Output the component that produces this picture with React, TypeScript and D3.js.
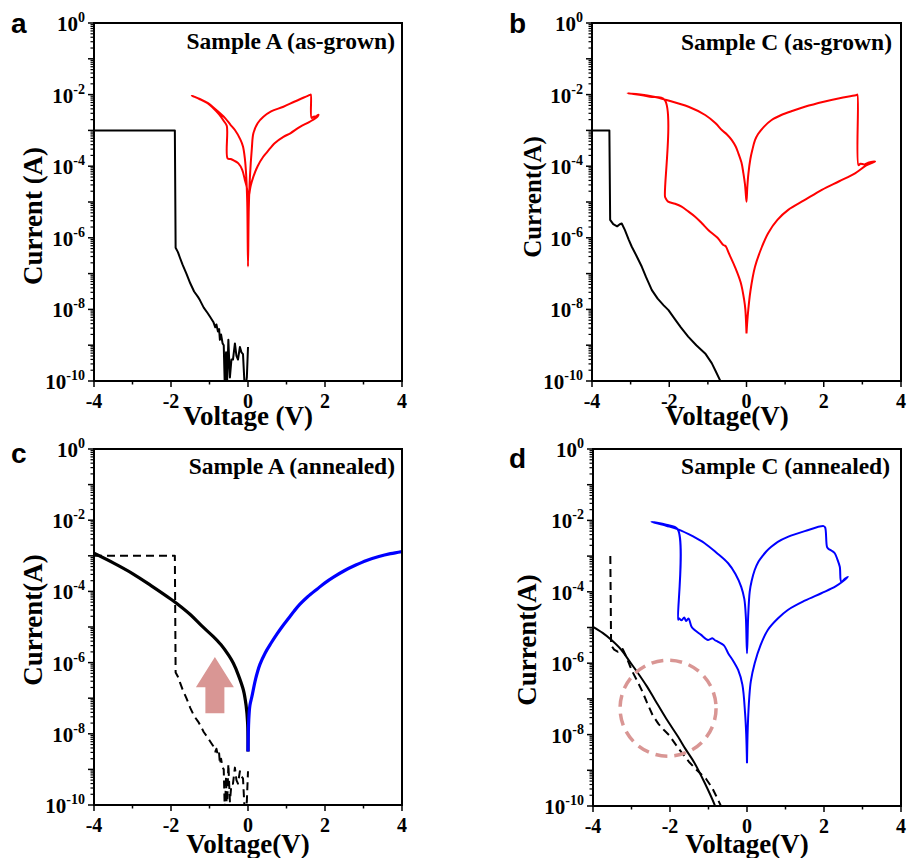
import React from "react";
import * as d3 from "d3";

// ---------- DATA: [voltage (V), log10(current / A)] ----------
const sampleAAsGrown: [number, number][] = [
  [-4, -3], [-1.9, -3], [-1.88, -6.28], [-1.82, -6.4], [-1.77, -6.55], [-1.7, -6.75], [-1.6, -7.0],
  [-1.5, -7.27], [-1.4, -7.5], [-1.3, -7.65], [-1.25, -7.74], [-1.15, -7.95], [-1.05, -8.1],
  [-0.99, -8.2], [-0.9, -8.35], [-0.85, -8.5], [-0.82, -8.42], [-0.78, -8.62], [-0.75, -8.55],
  [-0.73, -8.85], [-0.7, -8.7], [-0.66, -8.95], [-0.63, -9.0], [-0.6, -10.3], [-0.57, -9.2],
  [-0.55, -10.3], [-0.51, -8.85], [-0.47, -9.9], [-0.43, -9.4], [-0.39, -9.4], [-0.34, -8.95],
  [-0.3, -9.3], [-0.26, -9.4], [-0.21, -9.05], [-0.17, -9.2], [-0.13, -9.25], [-0.08, -10.3],
  [-0.03, -9.9], [0, -9.05],
];

const sampleASweep: [number, number][] = [
  [0, -4.95], [-0.03, -4.6], [-0.08, -4.39], [-0.15, -4.1], [-0.25, -3.92], [-0.35, -3.85],
  [-0.45, -3.8], [-0.53, -3.78], [-0.55, -2.88], [-0.62, -2.75], [-0.75, -2.55], [-0.9, -2.38],
  [-1.05, -2.24], [-1.25, -2.13], [-1.46, -2.03], [-1.25, -2.12], [-1.05, -2.23], [-0.8, -2.45],
  [-0.6, -2.65], [-0.45, -2.85], [-0.34, -2.99], [-0.2, -3.25], [-0.13, -3.45], [-0.08, -3.8],
  [-0.05, -4.2], [-0.02, -5.0], [0, -6.8], [0.02, -5.2], [0.05, -4.3], [0.1, -3.5], [0.14, -3.08],
  [0.25, -2.8], [0.4, -2.62], [0.6, -2.47], [0.92, -2.34], [1.2, -2.2], [1.45, -2.08],
  [1.61, -2.01], [1.63, -2.0], [1.65, -2.65], [1.7, -2.62], [1.78, -2.6], [1.83, -2.56],
  [1.8, -2.62], [1.6, -2.76], [1.35, -2.9], [1.1, -3.08], [0.92, -3.18], [0.7, -3.35],
  [0.5, -3.6], [0.4, -3.73], [0.25, -4.0], [0.14, -4.29], [0.07, -4.55], [0.03, -4.8], [0, -4.95],
];

const sampleCAsGrown: [number, number][] = [
  [-4, -3], [-3.55, -3], [-3.53, -5.5], [-3.45, -5.62], [-3.35, -5.68], [-3.28, -5.62],
  [-3.23, -5.6], [-3.15, -5.78], [-3.05, -6.05], [-2.97, -6.25], [-2.85, -6.5], [-2.71, -6.81],
  [-2.6, -7.1], [-2.45, -7.46], [-2.3, -7.7], [-2.15, -7.88], [-2.02, -8.02], [-1.85, -8.28],
  [-1.7, -8.5], [-1.51, -8.76], [-1.3, -9.0], [-1.07, -9.23], [-0.9, -9.5], [-0.8, -9.72],
  [-0.69, -9.97], [-0.65, -10.1],
];

const sampleCSweep: [number, number][] = [
  [0, -8.67], [-0.03, -8.0], [-0.06, -7.74], [-0.15, -7.25], [-0.3, -6.81], [-0.45, -6.45],
  [-0.53, -6.25], [-0.56, -6.22], [-0.6, -6.2], [-0.75, -6.0], [-0.99, -5.78], [-1.15, -5.6],
  [-1.33, -5.41], [-1.5, -5.27], [-1.68, -5.13], [-1.85, -5.05], [-2.03, -4.99], [-2.09, -4.9],
  [-2.11, -4.85], [-2.12, -2.15], [-2.5, -2.06], [-3.08, -1.96], [-2.5, -2.04], [-2.0, -2.17],
  [-1.5, -2.34], [-1.07, -2.57], [-0.8, -2.8], [-0.64, -2.99], [-0.5, -3.12], [-0.38, -3.27],
  [-0.28, -3.45], [-0.21, -3.64], [-0.13, -3.9], [-0.08, -4.2], [-0.04, -4.5], [-0.02, -4.75],
  [0, -4.99], [0.02, -4.6], [0.05, -4.2], [0.1, -3.8], [0.15, -3.55], [0.22, -3.27], [0.3, -3.1],
  [0.45, -2.9], [0.65, -2.71], [0.9, -2.57], [1.2, -2.45], [1.51, -2.34], [2.0, -2.2],
  [2.5, -2.08], [2.85, -2.01], [2.87, -2.0], [2.9, -3.97], [2.95, -3.93], [3.05, -3.95],
  [3.15, -3.9], [3.33, -3.87], [3.1, -3.98], [2.81, -4.2], [2.4, -4.42], [1.95, -4.66],
  [1.5, -4.95], [1.08, -5.22], [0.8, -5.5], [0.56, -5.87], [0.4, -6.25], [0.22, -6.81],
  [0.1, -7.5], [0.03, -8.2], [0, -8.67],
];

const sampleAAnnealedNeg: [number, number][] = [
  [-4, -2.93], [-3.5, -3.2], [-3, -3.5], [-2.5, -3.85], [-2, -4.22], [-1.85, -4.34],
  [-1.5, -4.65], [-1.2, -4.97], [-0.9, -5.27], [-0.7, -5.5], [-0.5, -5.8], [-0.38, -6.02],
  [-0.25, -6.35], [-0.12, -6.77], [-0.05, -7.2], [-0.01, -7.7], [0, -8.5],
];

const sampleAAnnealedPos: [number, number][] = [
  [0, -8.5], [0.02, -7.6], [0.05, -7.2], [0.1, -6.96], [0.2, -6.45], [0.31, -6.05],
  [0.45, -5.72], [0.6, -5.45], [0.75, -5.2], [0.9, -4.97], [1.05, -4.76], [1.2, -4.55],
  [1.35, -4.36], [1.55, -4.15], [1.8, -3.93], [2.0, -3.76], [2.22, -3.6], [2.5, -3.42],
  [2.8, -3.26], [3.08, -3.13], [3.4, -3.02], [3.7, -2.94], [4.0, -2.88],
];

const sampleCAnnealedNeg: [number, number][] = [
  [-4, -4.98], [-3.75, -5.15], [-3.52, -5.35], [-3.26, -5.63], [-3.05, -5.95], [-2.83, -6.28],
  [-2.6, -6.65], [-2.39, -7.03], [-2.1, -7.55], [-1.79, -8.06], [-1.6, -8.4], [-1.36, -8.8],
  [-1.1, -9.35], [-0.84, -9.97], [-0.8, -10.1],
];

const sampleCAnnealedSweep: [number, number][] = [
  [0, -8.8], [-0.02, -8.0], [-0.05, -7.4], [-0.12, -6.6], [-0.23, -6.19], [-0.35, -5.95],
  [-0.49, -5.72], [-0.6, -5.5], [-0.75, -5.4], [-0.84, -5.35], [-0.9, -5.3], [-1.01, -5.35],
  [-1.2, -5.2], [-1.36, -5.07], [-1.44, -4.98], [-1.52, -4.75], [-1.58, -4.82], [-1.63, -4.72],
  [-1.7, -4.8], [-1.77, -4.74], [-1.79, -4.78], [-1.8, -2.25], [-2.1, -2.12], [-2.48, -2.04],
  [-2.1, -2.15], [-1.79, -2.25], [-1.4, -2.45], [-1.1, -2.64], [-0.8, -2.9], [-0.49, -3.2],
  [-0.3, -3.5], [-0.15, -3.86], [-0.07, -4.2], [-0.03, -4.7], [0, -5.72], [0.03, -4.7],
  [0.07, -4.0], [0.12, -3.7], [0.2, -3.39], [0.3, -3.15], [0.4, -3.0], [0.5, -2.87],
  [0.63, -2.74], [0.8, -2.6], [1.06, -2.46], [1.5, -2.3], [1.99, -2.16], [2.03, -2.2],
  [2.08, -2.75], [2.12, -2.8], [2.2, -2.85], [2.28, -2.92], [2.35, -3.1], [2.41, -3.3],
  [2.45, -3.72], [2.55, -3.63], [2.62, -3.58], [2.5, -3.7], [2.3, -3.85], [1.93, -4.04],
  [1.5, -4.25], [1.06, -4.51], [0.8, -4.75], [0.54, -5.07], [0.35, -5.5], [0.2, -6.0],
  [0.1, -6.5], [0.06, -6.94], [0.02, -7.8], [0, -8.8],
];

const xTicks = [-4, -3, -2, -1, 0, 1, 2, 3, 4];
const xTickLabels = ["-4", "", "-2", "", "0", "", "2", "", "4"];
const yDecades = [-10, -9, -8, -7, -6, -5, -4, -3, -2, -1, 0];
const yLabelDecades = [-10, -8, -6, -4, -2, 0];

// annotation anchors (data units)
const arrowC = { v: -0.86, tip: -5.84, neck: -6.69, base: -7.42 };
const circleD = { v: -2.05, e: -7.26 };

const SERIF = "'Liberation Serif', 'Times New Roman', serif";
const SANS = "'Liberation Sans', Arial, sans-serif";
const PINK = "#d99694";

type Series = { data: [number, number][]; color: string; width: number; dash?: string; smooth?: boolean };

type PanelDef = {
  id: string;
  letter: string;
  lx: number; ly: number;
  x0: number; x1: number; y0: number; y1: number;
  title: string; titleX: number; titleY: number;
  yTitle: string; yTitleX: number; yTitleY: number; yTitleSize: number;
  xTitle: string; xTitleX: number; xTitleY: number;
  series: Series[];
  extra?: "arrow" | "circle";
};

const panels: PanelDef[] = [
  {
    id: "a", letter: "a", lx: 11, ly: 33, x0: 94, x1: 402, y0: 23, y1: 381,
    title: "Sample A (as-grown)", titleX: 395, titleY: 49,
    yTitle: "Current (A)", yTitleX: 42, yTitleY: 216, yTitleSize: 27,
    xTitle: "Voltage (V)", xTitleX: 248, xTitleY: 425,
    series: [
      { data: sampleAAsGrown, color: "#000", width: 2 },
      { data: sampleASweep, color: "#ff0000", width: 2, smooth: true },
    ],
  },
  {
    id: "b", letter: "b", lx: 509, ly: 33, x0: 592, x1: 901, y0: 23, y1: 381,
    title: "Sample C (as-grown)", titleX: 892, titleY: 50,
    yTitle: "Current(A)", yTitleX: 541, yTitleY: 197, yTitleSize: 25,
    xTitle: "Voltage(V)", xTitleX: 727, xTitleY: 425,
    series: [
      { data: sampleCAsGrown, color: "#000", width: 2 },
      { data: sampleCSweep, color: "#ff0000", width: 2, smooth: true },
    ],
  },
  {
    id: "c", letter: "c", lx: 11, ly: 463, x0: 94, x1: 402, y0: 449, y1: 805,
    title: "Sample A (annealed)", titleX: 395, titleY: 474,
    yTitle: "Current(A)", yTitleX: 42, yTitleY: 620, yTitleSize: 27,
    xTitle: "Voltage(V)", xTitleX: 248, xTitleY: 853,
    series: [
      { data: sampleAAsGrown, color: "#000", width: 2, dash: "8,5" },
      { data: sampleAAnnealedNeg, color: "#000", width: 3.2, smooth: true },
      { data: sampleAAnnealedPos, color: "#0000ff", width: 3.2, smooth: true },
    ],
    extra: "arrow",
  },
  {
    id: "d", letter: "d", lx: 509, ly: 468, x0: 593, x1: 901, y0: 449, y1: 806,
    title: "Sample C (annealed)", titleX: 890, titleY: 474,
    yTitle: "Current(A)", yTitleX: 536, yTitleY: 640, yTitleSize: 27,
    xTitle: "Voltage(V)", xTitleX: 747, xTitleY: 853,
    series: [
      { data: sampleCAsGrown.filter((d) => d[0] >= -3.6), color: "#000", width: 2, dash: "8,5" },
      { data: sampleCAnnealedNeg, color: "#000", width: 2, smooth: true },
      { data: sampleCAnnealedSweep, color: "#0000ff", width: 2, smooth: true },
    ],
    extra: "circle",
  },
];

function Panel({ p }: { p: PanelDef }) {
  const x = d3.scaleLinear().domain([-4, 4]).range([p.x0, p.x1]);
  const y = d3.scaleLog().domain([1e-10, 1]).range([p.y1, p.y0]);
  const makeLine = (smooth?: boolean) =>
    d3
      .line<[number, number]>()
      .x((d) => x(d[0]))
      .y((d) => y(Math.pow(10, d[1])))
      .curve(smooth ? d3.curveCatmullRom.alpha(0.5) : d3.curveLinear);

  const minors: number[] = [];
  yDecades.slice(0, -1).forEach((e) => {
    for (let k = 2; k <= 9; k++) minors.push(k * Math.pow(10, e));
  });

  let extra: React.ReactNode = null;
  if (p.extra === "arrow") {
    const cx = x(arrowC.v);
    const tip = y(Math.pow(10, arrowC.tip));
    const neck = y(Math.pow(10, arrowC.neck));
    const base = y(Math.pow(10, arrowC.base));
    const hw = 19, bw = 9.5;
    const pts = [
      [cx, tip], [cx + hw, neck], [cx + bw, neck], [cx + bw, base],
      [cx - bw, base], [cx - bw, neck], [cx - hw, neck],
    ].map((q) => q.join(",")).join(" ");
    extra = <polygon points={pts} fill={PINK} />;
  } else if (p.extra === "circle") {
    extra = (
      <circle
        cx={x(circleD.v)}
        cy={y(Math.pow(10, circleD.e))}
        r={48}
        fill="none"
        stroke={PINK}
        strokeWidth={3.5}
        strokeDasharray="12,7"
      />
    );
  }

  return (
    <g>
      <defs>
        <clipPath id={`clip-${p.id}`}>
          <rect x={p.x0} y={p.y0} width={p.x1 - p.x0} height={p.y1 - p.y0} />
        </clipPath>
      </defs>
      <g clipPath={`url(#clip-${p.id})`}>
        {p.series.map((s, i) => (
          <path
            key={i}
            d={makeLine(s.smooth)(s.data) || ""}
            fill="none"
            stroke={s.color}
            strokeWidth={s.width}
            strokeDasharray={s.dash}
            strokeLinejoin="round"
          />
        ))}
      </g>
      {extra}
      {/* y ticks */}
      {yDecades.map((e) => (
        <line key={`yd${e}`} x1={p.x0 - 6} x2={p.x0} y1={y(Math.pow(10, e))} y2={y(Math.pow(10, e))} stroke="#000" strokeWidth={1.5} />
      ))}
      {minors.map((m, i) => (
        <line key={`ym${i}`} x1={p.x0 - 3.5} x2={p.x0} y1={y(m)} y2={y(m)} stroke="#000" strokeWidth={1.2} />
      ))}
      {yLabelDecades.map((e) => (
        <text key={`yl${e}`} x={p.x0 - 9} y={y(Math.pow(10, e)) + 8} textAnchor="end" fontFamily={SERIF} fontWeight="bold" fontSize={21}>
          <tspan>10</tspan>
          <tspan dy={-9} fontSize={14}>{e}</tspan>
        </text>
      ))}
      {/* x ticks */}
      {xTicks.map((t, i) => (
        <line key={`xt${t}`} x1={x(t)} x2={x(t)} y1={p.y1} y2={p.y1 + (xTickLabels[i] ? 6 : 3.5)} stroke="#000" strokeWidth={1.5} />
      ))}
      {xTicks.map((t, i) =>
        xTickLabels[i] ? (
          <text key={`xl${t}`} x={x(t)} y={p.y1 + 27} textAnchor="middle" fontFamily={SERIF} fontWeight="bold" fontSize={20}>
            {xTickLabels[i]}
          </text>
        ) : null
      )}
      <rect x={p.x0} y={p.y0} width={p.x1 - p.x0} height={p.y1 - p.y0} fill="none" stroke="#000" strokeWidth={2} />
      <text x={p.titleX} y={p.titleY} textAnchor="end" fontFamily={SERIF} fontWeight="bold" fontSize={23.5}>
        {p.title}
      </text>
      <text
        transform={`translate(${p.yTitleX},${p.yTitleY}) rotate(-90)`}
        textAnchor="middle"
        fontFamily={SERIF}
        fontWeight="bold"
        fontSize={p.yTitleSize}
      >
        {p.yTitle}
      </text>
      <text x={p.xTitleX} y={p.xTitleY} textAnchor="middle" fontFamily={SERIF} fontWeight="bold" fontSize={27}>
        {p.xTitle}
      </text>
      <text x={p.lx} y={p.ly} fontFamily={SANS} fontWeight="bold" fontSize={28}>
        {p.letter}
      </text>
    </g>
  );
}

export default function App() {
  return (
    <svg
      width={909}
      height={858}
      viewBox="0 0 909 858"
      style={{ position: "absolute", left: 0, top: 0, background: "#fff" }}
    >
      <rect x={0} y={0} width={909} height={858} fill="#fff" />
      {panels.map((p) => (
        <Panel key={p.id} p={p} />
      ))}
    </svg>
  );
}
